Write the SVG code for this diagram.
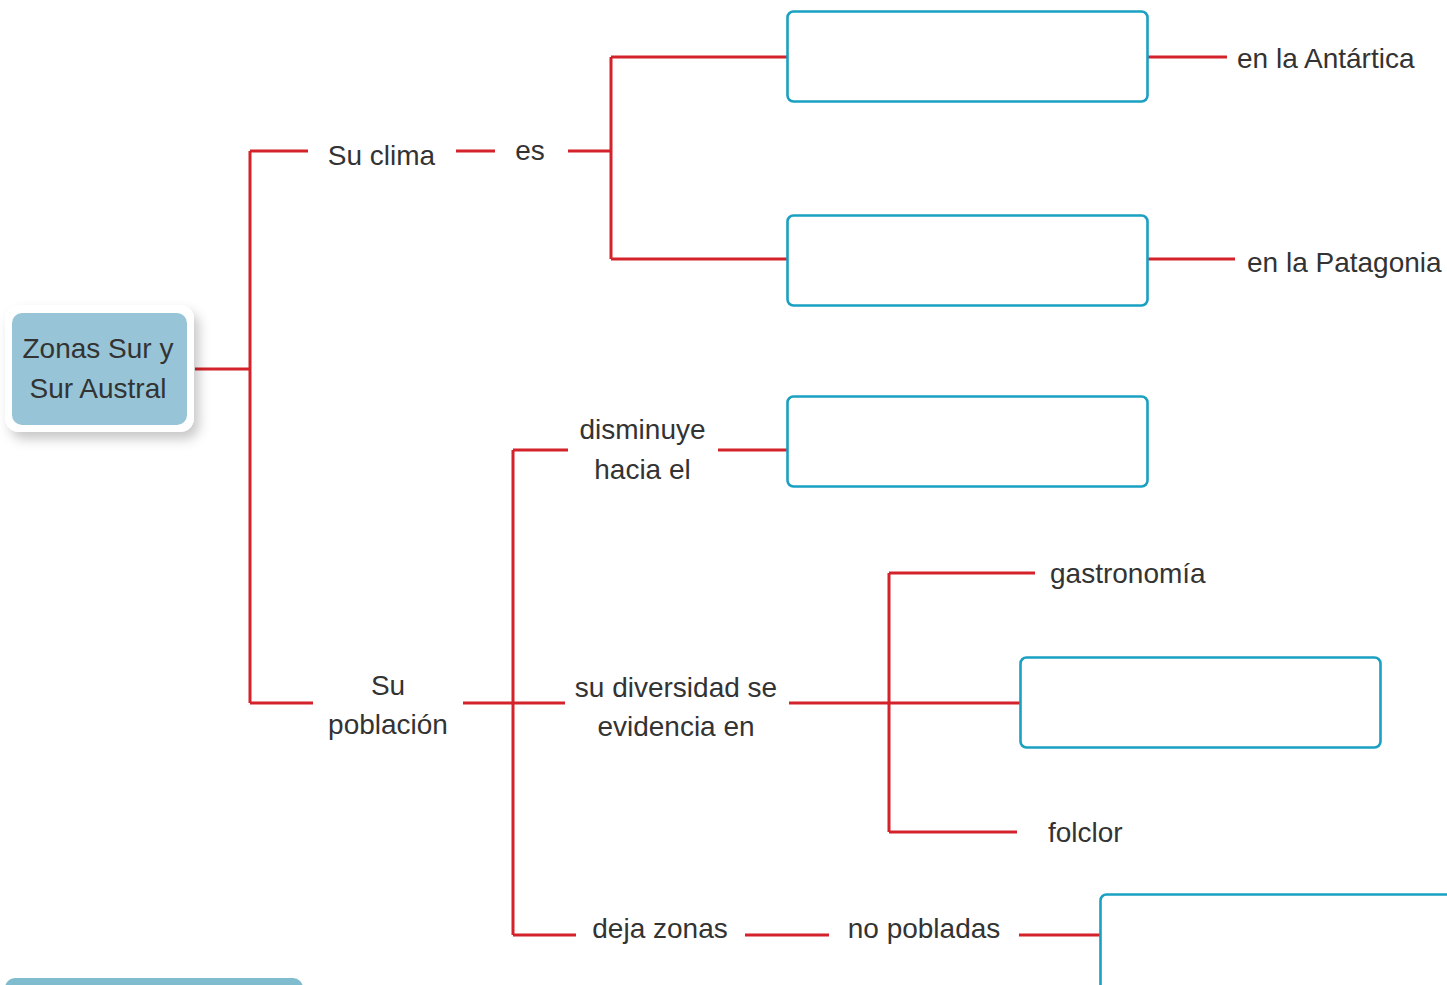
<svg xmlns="http://www.w3.org/2000/svg" width="1447" height="985" viewBox="0 0 1447 985">
<defs>
<filter id="sh" x="-20%" y="-20%" width="150%" height="160%">
<feDropShadow dx="5" dy="7" stdDeviation="6" flood-color="#000" flood-opacity="0.22"/>
</filter>
</defs>
<style>
.t{font-family:"Liberation Sans",Arial,sans-serif;font-size:28px;fill:#333}
.m{text-anchor:middle}
.c{fill:none;stroke:#d3222a;stroke-width:3}
.b{fill:#fff;stroke:#1aa0c1;stroke-width:2.6}
</style>
<rect width="1447" height="985" fill="#fff"/>
<g id="connectors">
<path class="c" d="M195 369H250M250 151V703M250 151H308M456 151H495M568 151H611M611 57V259M611 57H787M611 259H787M1148 57H1227M1148 259H1235M250 703H313M463 703H565M513 450V935M513 450H568M718 450H787M789 703H1020M889 573V832M889 573H1035M889 832H1017M513 935H576M745 935H829M1019 935H1100"/>
</g>
<g id="root">
<rect x="5" y="305" width="189" height="127" rx="14" fill="#fff" filter="url(#sh)"/>
<rect x="12" y="313" width="175" height="112" rx="10" fill="#97c5d7"/>
<text class="t m" x="98" y="358">Zonas Sur y</text>
<text class="t m" x="98" y="398">Sur Austral</text>
</g>
<g id="su-clima"><text class="t m" x="381.5" y="165">Su clima</text></g>
<g id="es"><text class="t m" x="530" y="160">es</text></g>
<g id="box1"><rect class="b" x="787.5" y="11.5" width="360" height="90" rx="6"/></g>
<g id="box2"><rect class="b" x="787.5" y="215.5" width="360" height="90" rx="6"/></g>
<g id="antartica"><text class="t" x="1237" y="68">en la Antártica</text></g>
<g id="patagonia"><text class="t" x="1247" y="272">en la Patagonia</text></g>
<g id="su-poblacion">
<text class="t m" x="388" y="695">Su</text>
<text class="t m" x="388" y="734">población</text>
</g>
<g id="disminuye">
<text class="t m" x="642.5" y="439">disminuye</text>
<text class="t m" x="642.5" y="479">hacia el</text>
</g>
<g id="box3"><rect class="b" x="787.5" y="396.5" width="360" height="90" rx="6"/></g>
<g id="diversidad">
<text class="t m" x="676" y="697">su diversidad se</text>
<text class="t m" x="676" y="736">evidencia en</text>
</g>
<g id="gastronomia"><text class="t" x="1050" y="583">gastronomía</text></g>
<g id="box4"><rect class="b" x="1020.5" y="657.5" width="360" height="90" rx="6"/></g>
<g id="folclor"><text class="t" x="1048" y="842">folclor</text></g>
<g id="deja-zonas"><text class="t m" x="660" y="938">deja zonas</text></g>
<g id="no-pobladas"><text class="t m" x="924" y="938">no pobladas</text></g>
<g id="box5"><rect class="b" x="1100.5" y="894.5" width="360" height="100" rx="6"/></g>
<g id="bottom-bar"><rect x="5" y="978" width="298" height="30" rx="10" fill="#7fbccd"/></g>
</svg>
